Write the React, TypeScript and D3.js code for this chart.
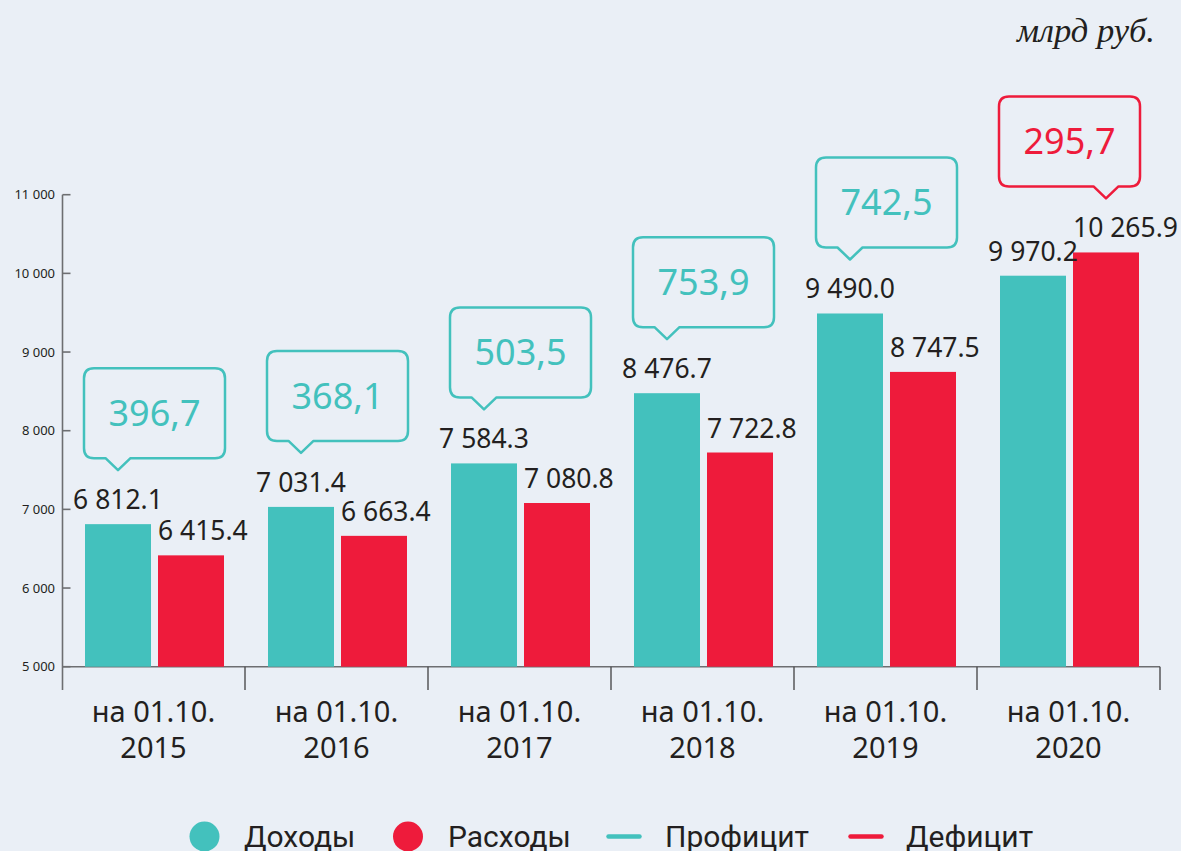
import React from "react";
import * as d3 from "d3";

const categories = ["2015", "2016", "2017", "2018", "2019", "2020"];
const income = [6812.1, 7031.4, 7584.3, 8476.7, 9490.0, 9970.2];
const expense = [6415.4, 6663.4, 7080.8, 7722.8, 8747.5, 10265.9];
const balance = [396.7, 368.1, 503.5, 753.9, 742.5, -295.7];
const yTicks = [5000, 6000, 7000, 8000, 9000, 10000, 11000];
const legendItems = [
  { name: "Доходы", kind: "dot", color: "teal" },
  { name: "Расходы", kind: "dot", color: "red" },
  { name: "Профицит", kind: "line", color: "teal" },
  { name: "Дефицит", kind: "line", color: "red" },
];

const TEAL = "#43C1BD";
const RED = "#EE1B3B";
const BG = "#EAEFF6";
const TEXT = "#231F20";
const FONT = "'Noto Sans', Inter, sans-serif";
const LFONT = "Roboto, 'Noto Sans', sans-serif";

const W = 1181;
const H = 851;

const locale = d3.formatLocale({ decimal: ".", thousands: " ", grouping: [3], currency: ["", ""] });
const fmtVal = locale.format(",.1f");
const fmtTick = locale.format(",.0f");
const fmtBal = d3.formatLocale({ decimal: ",", thousands: " ", grouping: [3], currency: ["", ""] }).format(".1f");

export default function App() {
  const x0 = d3.scaleBand<string>().domain(categories).range([62, 1160]);
  const x1 = d3.scaleBand<string>().domain(["inc", "exp"]).range([23, 162]).paddingInner(0.096);
  const y = d3.scaleLinear().domain([5000, 11000]).range([666.7, 194.7]);
  const bw = x1.bandwidth();

  const legendPos = [
    { mark: 204.5, text: 244 },
    { mark: 408, text: 448 },
    { mark: 624, text: 665 },
    { mark: 866, text: 906 },
  ];

  const boxW = 141;
  const boxH = 90;
  const r = 10;
  const tailW = 12.5;
  const tailH = 12;

  return (
    <div style={{ position: "fixed", left: 0, top: 0, width: W, height: H, background: BG }}>
      <svg width={W} height={H} style={{ display: "block" }}>
        <rect x={0} y={0} width={W} height={H} fill={BG} />
        <text x={1155} y={42} textAnchor="end" fontFamily="'Liberation Serif', serif" fontStyle="italic" fontSize={34.5} fill={TEXT}>
          млрд руб.
        </text>

        {/* y axis */}
        <line x1={62.5} x2={62.5} y1={y(11000)} y2={690} stroke="#6d6e71" strokeWidth={1.6} />
        {yTicks.map((t) => (
          <g key={t}>
            <line x1={62.5} x2={70.5} y1={y(t)} y2={y(t)} stroke="#6d6e71" strokeWidth={1.6} />
            <text x={55} y={y(t)} dy="0.35em" textAnchor="end" fontFamily={FONT} fontSize={13} fill={TEXT}>
              {fmtTick(t)}
            </text>
          </g>
        ))}
        {/* x baseline */}
        <line x1={62} x2={1160} y1={y(5000)} y2={y(5000)} stroke="#6d6e71" strokeWidth={1.6} />
        {categories.map((c) => (
          <line key={"sep" + c} x1={(x0(c) as number) + x0.bandwidth()} x2={(x0(c) as number) + x0.bandwidth()} y1={y(5000)} y2={690} stroke="#4d4d4f" strokeWidth={1.4} />
        ))}

        {categories.map((c, i) => {
          const bx = x0(c) as number;
          const xi = bx + (x1("inc") as number);
          const xe = bx + (x1("exp") as number);
          const cx = bx + x0.bandwidth() / 2;
          const surplus = balance[i] >= 0;
          const color = surplus ? TEAL : RED;
          const tipX = surplus ? xi + bw / 2 : xe + bw / 2;
          const tipY = y(Math.max(income[i], expense[i])) - 54;
          const top = tipY - tailH - boxH;
          const left = cx - boxW / 2 + 1;
          const right = left + boxW;
          const bottom = tipY - tailH;
          const path = [
            `M${left + r},${top}`,
            `H${right - r}`,
            `Q${right},${top} ${right},${top + r}`,
            `V${bottom - r}`,
            `Q${right},${bottom} ${right - r},${bottom}`,
            `H${tipX + tailW}`,
            `L${tipX},${tipY}`,
            `L${tipX - tailW},${bottom}`,
            `H${left + r}`,
            `Q${left},${bottom} ${left},${bottom - r}`,
            `V${top + r}`,
            `Q${left},${top} ${left + r},${top}`,
            "Z",
          ].join(" ");
          return (
            <g key={c}>
              <rect x={xi} y={y(income[i])} width={bw} height={y(5000) - y(income[i])} fill={TEAL} />
              <rect x={xe} y={y(expense[i])} width={bw} height={y(5000) - y(expense[i])} fill={RED} />
              <text x={xi + bw / 2} y={y(income[i]) - 15} textAnchor="middle" fontFamily={FONT} fontSize={26.5} fill={TEXT}>
                {fmtVal(income[i])}
              </text>
              <text x={xe} y={y(expense[i]) - 15} textAnchor="start" fontFamily={FONT} fontSize={26.5} fill={TEXT}>
                {fmtVal(expense[i])}
              </text>
              <path d={path} fill="none" stroke={color} strokeWidth={2.5} strokeLinejoin="round" />
              <text x={left + boxW / 2} y={top + 58} textAnchor="middle" fontFamily={FONT} fontSize={36} fill={color}>
                {fmtBal(Math.abs(balance[i]))}
              </text>
              <text x={cx} y={722} textAnchor="middle" fontFamily={FONT} fontSize={29} fill={TEXT}>
                на 01.10.
              </text>
              <text x={cx} y={757.5} textAnchor="middle" fontFamily={FONT} fontSize={29} fill={TEXT}>
                {c}
              </text>
            </g>
          );
        })}

        {legendItems.map((d, i) => {
          const col = d.color === "teal" ? TEAL : RED;
          const p = legendPos[i];
          return (
            <g key={d.name}>
              {d.kind === "dot" ? (
                <circle cx={p.mark} cy={836.5} r={15} fill={col} />
              ) : (
                <line x1={p.mark - 15.5} x2={p.mark + 15.5} y1={836.5} y2={836.5} stroke={col} strokeWidth={4.5} strokeLinecap="round" />
              )}
              <text x={p.text} y={847} fontFamily={LFONT} fontSize={30} fill={TEXT}>
                {d.name}
              </text>
            </g>
          );
        })}
      </svg>
    </div>
  );
}
